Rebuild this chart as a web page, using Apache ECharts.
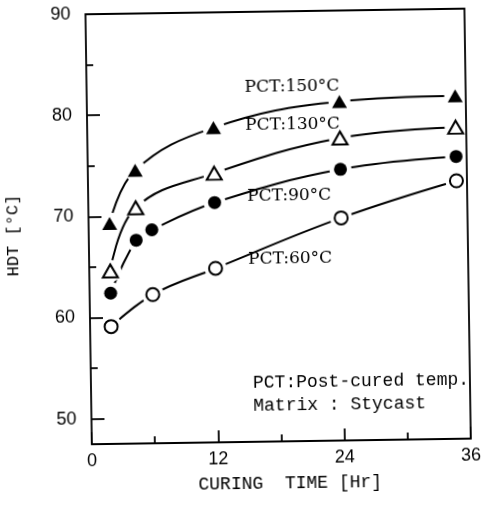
<!DOCTYPE html>
<html>
<head>
<meta charset="UTF-8">
<title>HDT vs curing time</title>
<script src="https://cdn.jsdelivr.net/npm/echarts@6/dist/echarts.min.js"></script>
<style>
  html, body { margin: 0; padding: 0; background: #fff; overflow: hidden; }
  /* the scanned figure sits a little askew */
  #main { transform: translate(0, -1px) rotate(-0.85deg); }
</style>
</head>
<body>
<div id="main" style="width:481px;height:505px;"></div>
<script>
// curing time [Hr], HDT [°C]
var pct150 = [[2, 69.3], [4.5, 74.5], [12, 78.6], [24, 81.0], [35, 81.4]];
var pct130 = [[2, 64.6], [4.5, 70.8], [12, 74.1], [24, 77.4], [35, 78.3]];
var pct90  = [[2, 62.4], [4.5, 67.6], [6, 68.6], [12, 71.2], [24, 74.3], [35, 75.4]];
var pct60  = [[2, 59.1], [6, 62.2], [12, 64.7], [24, 69.5], [35, 73.0]];

var xLabels = [0, 12, 24, 36];
var xMinor = [6, 18, 30];
var yLabels = [50, 60, 70, 80, 90];
var yMinor = [55, 65, 75, 85];

var curveNames = ['PCT:150°C', 'PCT:130°C', 'PCT:90°C', 'PCT:60°C'];
var noteLines = ['PCT:Post-cured temp.', 'Matrix : Stycast'];

var myChart = echarts.init(document.getElementById('main'));

function curve(data) {
    return {
        type: 'line',
        data: data,
        smooth: 0.4,
        showSymbol: false,
        lineStyle: { color: '#000', width: 2 },
        silent: true,
        z: 2
    };
}
// white blobs under the markers, cut the curve short of each point
function gaps(data) {
    return {
        type: 'scatter',
        data: data,
        symbol: 'circle',
        symbolSize: 22,
        itemStyle: { color: '#ffffff', opacity: 1 },
        silent: true,
        z: 3
    };
}
function marks(data, shape, filled) {
    return {
        type: 'scatter',
        data: data,
        symbol: shape,
        symbolSize: shape === 'triangle' ? [15, 13] : 13,
        itemStyle: filled
            ? { color: '#000', opacity: 1 }
            : { color: '#fff', borderColor: '#000', borderWidth: 2, opacity: 1 },
        z: 4
    };
}
// plain frame line (top / right side)
function frameAxis(pos, lo, hi) {
    return {
        type: 'value', min: lo, max: hi, position: pos, z: 10,
        axisLine: { show: true, onZero: false, lineStyle: { color: '#000', width: 1.8 } },
        axisTick: { show: false },
        axisLabel: { show: false },
        splitLine: { show: false }
    };
}

var serif = 'DejaVu Serif';
var mono = 'Liberation Mono';

var option = {
    animation: false,
    grid: { left: 89, right: 7, top: 13, bottom: 62 },
    xAxis: [
        {
            type: 'value', min: 0, max: 36, z: 10,
            axisLine: { onZero: false, lineStyle: { color: '#000', width: 1.8 } },
            axisTick: { inside: true, length: 12, customValues: xLabels, lineStyle: { color: '#000', width: 1.8 } },
            axisLabel: { customValues: xLabels, margin: 8, color: '#000', fontSize: 18, fontFamily: 'Liberation Sans' },
            splitLine: { show: false }
        },
        {
            type: 'value', min: 0, max: 36, position: 'bottom',
            axisLine: { show: false, onZero: false },
            axisTick: { inside: true, length: 7, customValues: xMinor, lineStyle: { color: '#000', width: 1.8 } },
            axisLabel: { show: false },
            splitLine: { show: false }
        },
        frameAxis('top', 0, 36)
    ],
    yAxis: [
        {
            type: 'value', min: 47.5, max: 90, z: 10,
            axisLine: { show: true, onZero: false, lineStyle: { color: '#000', width: 1.8 } },
            axisTick: { show: true, inside: true, length: 13, customValues: yLabels, lineStyle: { color: '#000', width: 1.8 } },
            axisLabel: { customValues: yLabels, margin: 15, color: '#000', fontSize: 18, fontFamily: 'Liberation Sans' },
            splitLine: { show: false }
        },
        {
            type: 'value', min: 47.5, max: 90, position: 'left',
            axisLine: { show: false, onZero: false },
            axisTick: { show: true, inside: true, length: 7, customValues: yMinor, lineStyle: { color: '#000', width: 1.8 } },
            axisLabel: { show: false },
            splitLine: { show: false }
        },
        frameAxis('right', 47.5, 90)
    ],
    series: [
        curve(pct150), curve(pct130), curve(pct90), curve(pct60),
        gaps(pct150), gaps(pct130), gaps(pct90), gaps(pct60),
        marks(pct150, 'triangle', true),
        marks(pct130, 'triangle', false),
        marks(pct90, 'circle', true),
        marks(pct60, 'circle', false)
    ],
    graphic: [
        { type: 'text', left: 247, top: 80, z: 10, style: { text: curveNames[0], font: '17px "' + serif + '"', fill: '#000' } },
        { type: 'text', left: 247, top: 118, z: 10, style: { text: curveNames[1], font: '17px "' + serif + '"', fill: '#000' } },
        { type: 'text', left: 248, top: 189, z: 10, style: { text: curveNames[2], font: '17px "' + serif + '"', fill: '#000' } },
        { type: 'text', left: 248, top: 252, z: 10, style: { text: curveNames[3], font: '17px "' + serif + '"', fill: '#000' } },
        { type: 'text', left: 251, top: 375, style: { text: noteLines[0], font: '18px "' + mono + '"', fill: '#000' } },
        { type: 'text', left: 251, top: 398, style: { text: noteLines[1], font: '18px "' + mono + '"', fill: '#000' } },
        { type: 'text', left: 195, top: 476, style: { text: 'CURING  TIME [Hr]', font: '18px "' + mono + '"', fill: '#000' } },
        {
            type: 'text', x: 5, y: 274, rotation: Math.PI / 2,
            style: { text: 'HDT [°C]', font: '17px "' + mono + '"', fill: '#000' }
        }
    ]
};
myChart.setOption(option);
</script>
</body>
</html>
